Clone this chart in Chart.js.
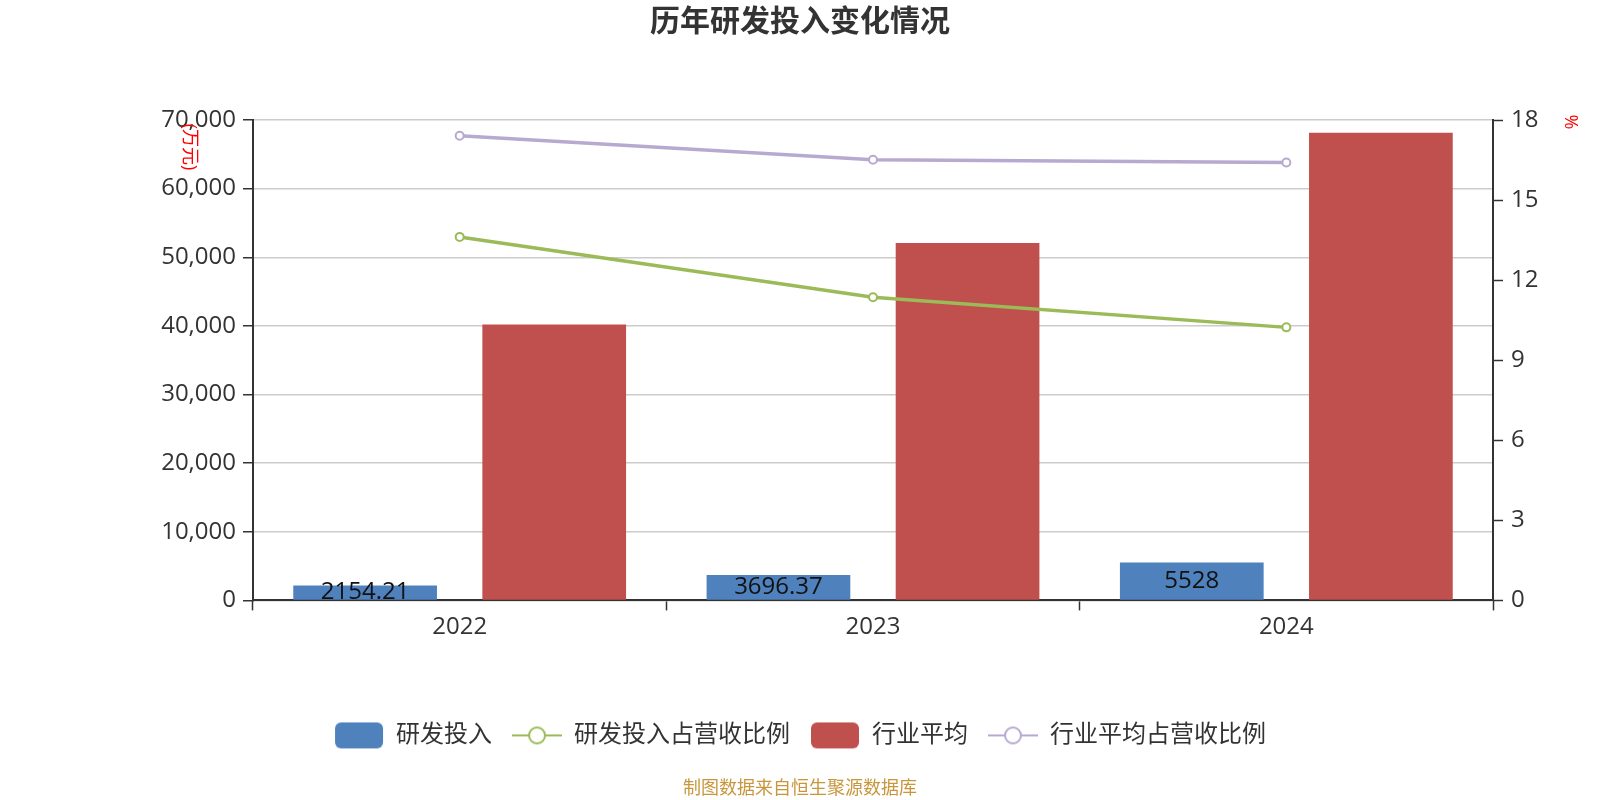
<!DOCTYPE html>
<html>
<head>
<meta charset="utf-8">
<script src="https://cdn.jsdelivr.net/npm/chart.js@4/dist/chart.umd.min.js"></script>
<style>
  html, body { margin: 0; padding: 0; background: #fff; }
  #wrap { width: 1600px; height: 800px; }
</style>
</head>
<body>
<div id="wrap"><canvas id="myChart" width="1600" height="800"></canvas></div>
<script>
const years = ["2022", "2023", "2024"];
const rdSpend = [2154.21, 3696.37, 5528];
const rdRatio = [13.62, 11.36, 10.23];
const industryAvg = [40200, 52080, 68150];
const industryRatio = [17.41, 16.51, 16.41];
const leftTicks = [0, 10000, 20000, 30000, 40000, 50000, 60000, 70000];
const rightTicks = [0, 3, 6, 9, 12, 15, 18];

const blue = "#4f81bd";
const red = "#c0504d";
const green = "#9bbb59";
const purple = "#b8a9d1";
const textColor = "#333";
const fontFamily = "'Open Sans', 'Noto Sans CJK SC', sans-serif";

// legend icons
function boxIcon(color) {
  const c = document.createElement("canvas");
  c.width = 50; c.height = 28;
  const g = c.getContext("2d");
  g.fillStyle = color;
  g.beginPath();
  g.roundRect(1, 1, 48, 26, 6);
  g.fill();
  return c;
}
function lineIcon(color) {
  const c = document.createElement("canvas");
  c.width = 50; c.height = 28;
  const g = c.getContext("2d");
  g.strokeStyle = color;
  g.lineWidth = 2;
  g.beginPath();
  g.moveTo(0, 14); g.lineTo(50, 14);
  g.stroke();
  g.beginPath();
  g.arc(25, 14, 8, 0, Math.PI * 2);
  g.fillStyle = "#fff";
  g.fill();
  g.stroke();
  return c;
}

const barLabels = {
  id: "barLabels",
  afterDatasetsDraw(chart) {
    const ctx = chart.ctx;
    const meta = chart.getDatasetMeta(0);
    ctx.save();
    ctx.font = "24px " + fontFamily;
    ctx.fillStyle = "#111";
    ctx.textAlign = "center";
    ctx.textBaseline = "middle";
    meta.data.forEach((bar, i) => {
      ctx.fillText(String(rdSpend[i]), bar.x, (bar.y + bar.base) / 2);
    });
    ctx.restore();
  }
};

const axisNames = {
  id: "axisNames",
  afterDraw(chart) {
    const ctx = chart.ctx;
    const area = chart.chartArea;
    ctx.save();
    ctx.font = "18px " + fontFamily;
    ctx.fillStyle = "#ff0000";
    ctx.textAlign = "center";
    ctx.textBaseline = "middle";
    ctx.translate(area.left - 64, area.top + 27);
    ctx.rotate(Math.PI / 2);
    ctx.fillText("(万元)", 0, 0);
    ctx.restore();
    ctx.save();
    ctx.font = "18px " + fontFamily;
    ctx.fillStyle = "#ff0000";
    ctx.textAlign = "center";
    ctx.textBaseline = "middle";
    ctx.translate(area.right + 77, area.top + 2);
    ctx.rotate(Math.PI / 2);
    ctx.fillText("%", 0, 0);
    ctx.restore();
  }
};

const icons = [boxIcon(blue), lineIcon(green), boxIcon(red), lineIcon(purple)];

const data = {
  labels: years,
  datasets: [
    {
      type: "bar",
      label: "研发投入",
      data: rdSpend,
      backgroundColor: blue,
      yAxisID: "y",
      order: 1,
      categoryPercentage: 0.915,
      barPercentage: 0.76,
    },
    {
      type: "line",
      label: "研发投入占营收比例",
      data: rdRatio,
      borderColor: green,
      backgroundColor: "#fff",
      borderWidth: 3.5,
      pointRadius: 4,
      pointBorderWidth: 2,
      pointBackgroundColor: "#fff",
      pointBorderColor: green,
      tension: 0,
      yAxisID: "y1",
      order: 0,
    },
    {
      type: "bar",
      label: "行业平均",
      data: industryAvg,
      backgroundColor: red,
      yAxisID: "y",
      order: 1,
      categoryPercentage: 0.915,
      barPercentage: 0.76,
    },
    {
      type: "line",
      label: "行业平均占营收比例",
      data: industryRatio,
      borderColor: purple,
      backgroundColor: "#fff",
      borderWidth: 3.5,
      pointRadius: 4,
      pointBorderWidth: 2,
      pointBackgroundColor: "#fff",
      pointBorderColor: purple,
      tension: 0,
      yAxisID: "y1",
      order: 0,
    },
  ],
};

const config = {
  data: data,
  options: {
    responsive: false,
    animation: false,
    devicePixelRatio: 1,
    locale: "en-US",
    layout: { padding: { left: 0, right: 0, top: 0, bottom: 0 } },
    font: { family: fontFamily },
    scales: {
      x: {
        offset: true,
        grid: { drawOnChartArea: false, offset: true, tickLength: 10, tickColor: textColor, tickWidth: 1.5 },
        border: { color: textColor, width: 2 },
        ticks: { color: textColor, font: { size: 24, family: fontFamily }, padding: 2 },
        afterFit(scale) { scale.height = 103; },
      },
      y: {
        position: "left",
        min: 0,
        max: 70000,
        afterBuildTicks(scale) { scale.ticks = leftTicks.map(v => ({ value: v })); },
        grid: { color: "#cccccc", lineWidth: 1.5, tickColor: textColor, tickLength: 10, tickWidth: 1.5 },
        border: { color: textColor, width: 2 },
        ticks: {
          color: textColor,
          padding: 7,
          font: { size: 24, family: fontFamily },
          callback: v => v.toLocaleString("en-US"),
        },
        afterFit(scale) { scale.width = 253; },
      },
      y1: {
        position: "right",
        min: 0,
        max: 18,
        afterBuildTicks(scale) { scale.ticks = rightTicks.map(v => ({ value: v })); },
        grid: { drawOnChartArea: false, tickColor: textColor, tickLength: 10, tickWidth: 1.5 },
        border: { color: textColor, width: 2 },
        ticks: { color: textColor, padding: 8, font: { size: 24, family: fontFamily } },
        afterFit(scale) { scale.width = 107; },
      },
    },
    plugins: {
      title: {
        display: true,
        text: "历年研发投入变化情况",
        color: textColor,
        font: { size: 30, weight: "bold", family: fontFamily },
        padding: { top: 4, bottom: 80 },
      },
      subtitle: {
        display: true,
        position: "bottom",
        text: "制图数据来自恒生聚源数据库",
        color: "#c8963c",
        font: { size: 18, family: fontFamily },
        padding: { top: 21, bottom: 0 },
      },
      legend: {
        position: "bottom",
        labels: {
          usePointStyle: true,
          pointStyleWidth: 50,
          boxHeight: 28,
          padding: 20,
          color: textColor,
          font: { size: 24, family: fontFamily },
          generateLabels(chart) {
            return chart.data.datasets.map((ds, i) => ({
              text: ds.label,
              pointStyle: icons[i],
              fillStyle: "transparent",
              strokeStyle: "transparent",
              lineWidth: 0,
              fontColor: textColor,
              hidden: false,
              datasetIndex: i,
            }));
          },
        },
      },
      tooltip: { enabled: false },
    },
  },
  plugins: [barLabels, axisNames],
};

const myChart = new Chart(document.getElementById("myChart"), config);
</script>
</body>
</html>
